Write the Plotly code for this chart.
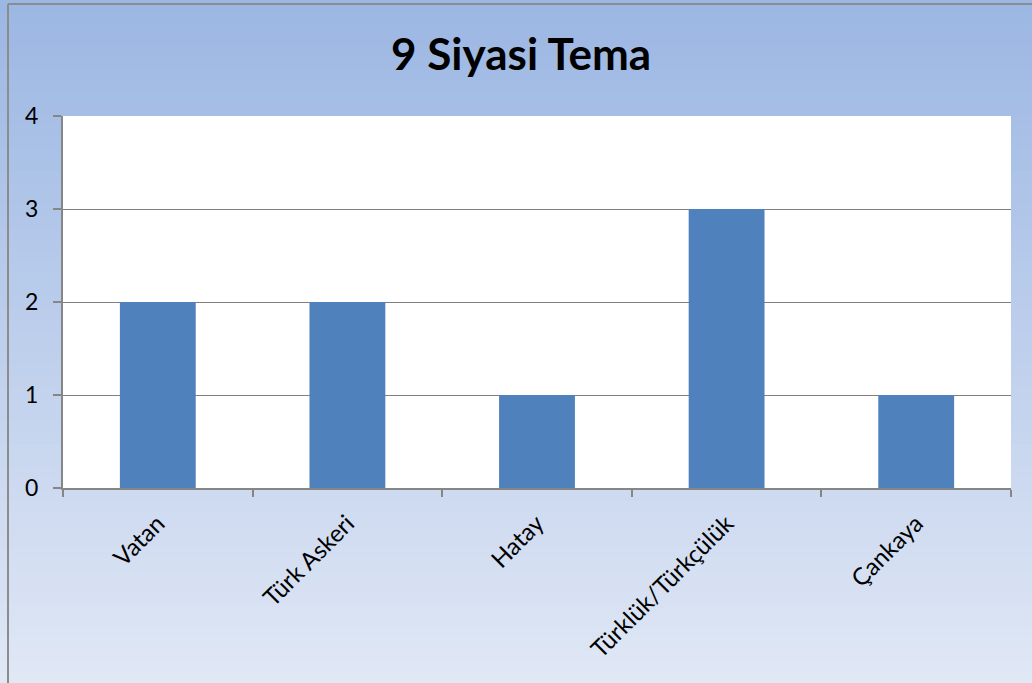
import plotly.graph_objects as go

# Data
categories = ['Vatan', 'Türk Askeri', 'Hatay', 'Türklük/Türkçülük', 'Çankaya']
values = [2, 2, 1, 3, 1]
y_ticks = [0, 1, 2, 3, 4]

W, H = 1032, 683
L, R, T, B = 63, 21, 116, 195

fig = go.Figure()

fig.add_trace(go.Bar(
    x=categories, y=values,
    marker=dict(color='#4f81bd', line=dict(width=0)),
    width=0.4
))

# gradient background built from horizontal bands (paper coords)
pw, ph = W - L - R, H - T - B
def px2x(px):
    return (px - L) / pw
def py2y(py):
    return (H - B - py) / ph

top_c = (155, 183, 227)
bot_c = (224, 231, 245)
n = 60
shapes = []
for i in range(n):
    f = i / (n - 1)
    c = tuple(round(top_c[k] + (bot_c[k] - top_c[k]) * f) for k in range(3))
    y0 = i * H / n
    y1 = (i + 1) * H / n + 1
    shapes.append(dict(type='rect', xref='paper', yref='paper', layer='below',
                       x0=px2x(0), x1=px2x(W), y0=py2y(y1), y1=py2y(y0),
                       fillcolor='rgb(%d,%d,%d)' % c, line=dict(width=0)))
# plot area white
shapes.append(dict(type='rect', xref='paper', yref='paper', layer='below',
                   x0=0, x1=1, y0=0, y1=1, fillcolor='white', line=dict(width=0)))
# chart outer border
shapes.append(dict(type='line', xref='paper', yref='paper',
                   x0=px2x(8), x1=px2x(8), y0=py2y(4), y1=py2y(H + 5),
                   line=dict(color='#8c8c8c', width=2)))
shapes.append(dict(type='line', xref='paper', yref='paper',
                   x0=px2x(8), x1=px2x(W + 5), y0=py2y(4), y1=py2y(4),
                   line=dict(color='#8c8c8c', width=2)))

fig.update_layout(
    width=W, height=H,
    margin=dict(l=L, r=R, t=T, b=B, autoexpand=False),
    paper_bgcolor='#c8d5ee',
    plot_bgcolor='rgba(0,0,0,0)',
    shapes=shapes,
    showlegend=False,
    bargap=0.6,
    font=dict(family='Lato, Open Sans, sans-serif', color='black'),
    title=dict(text='<b>9 Siyasi Tema</b>', x=0.505, xanchor='center',
               y=1 - 55 / H, yanchor='middle',
               font=dict(size=44, color='black')),
    xaxis=dict(
        type='category', tickangle=-45, tickson='boundaries',
        ticks='outside', ticklen=7, tickcolor='#868686', tickwidth=2,
        showline=True, linecolor='#868686', linewidth=2,
        showgrid=False, tickfont=dict(size=24), ticklabelstandoff=10
    ),
    yaxis=dict(
        range=[0, 4], tickvals=y_ticks,
        ticks='outside', ticklen=8, tickcolor='#868686', tickwidth=2,
        showline=True, linecolor='#868686', linewidth=2,
        showgrid=True, gridcolor='#808080', gridwidth=1,
        zeroline=False, tickfont=dict(size=23), ticklabelstandoff=10
    )
)

fig.write_html("out.html", config=dict(displayModeBar=False),
               post_script="document.body.style.margin='0';")
